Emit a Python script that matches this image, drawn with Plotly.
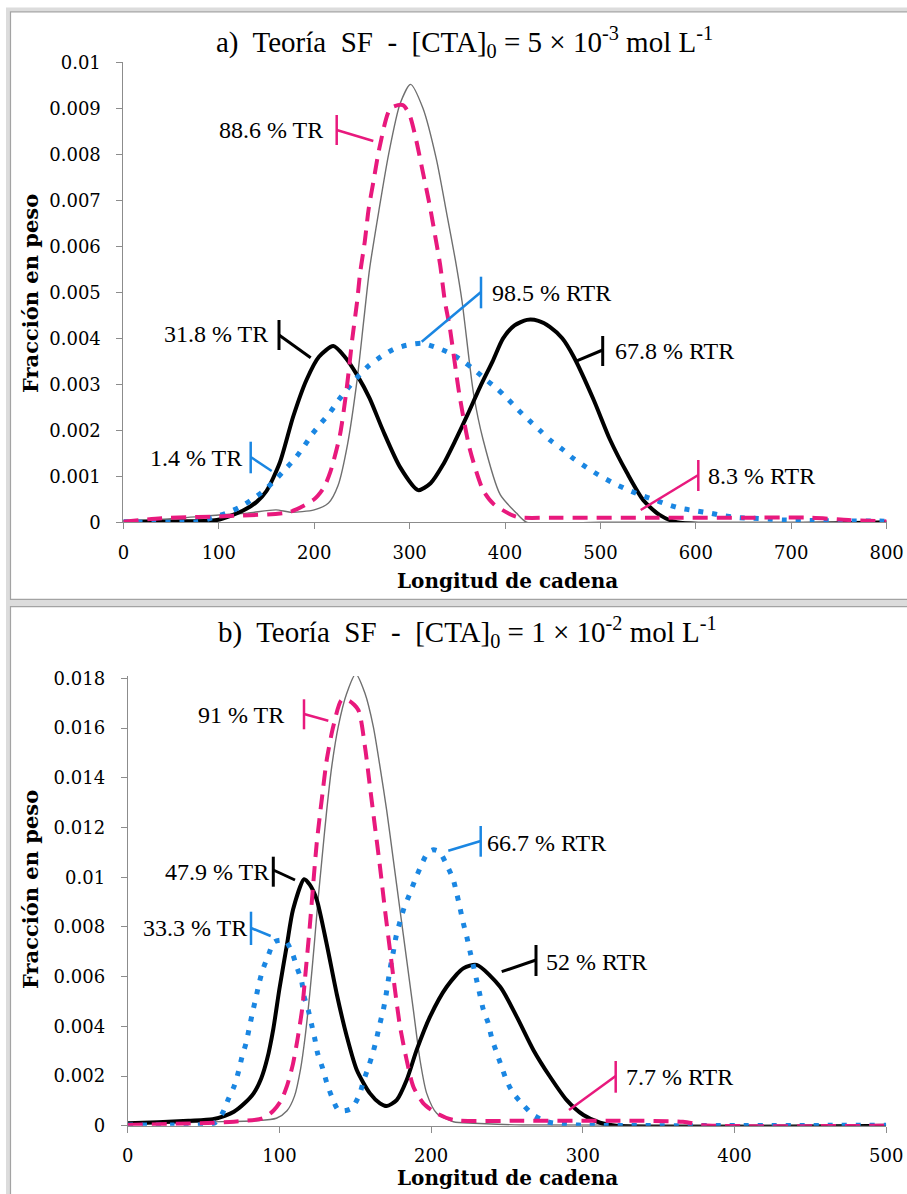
import plotly.graph_objects as go

# ---------------- data: panel a ----------------
A_x_gray = [0, 50, 100, 130, 160, 175, 200, 215, 225, 235, 245, 252, 258, 268, 278, 290, 301, 314, 328, 339, 348, 355, 367, 377, 395, 412, 423, 500, 800]
A_y_gray = [0.00003, 0.00008, 0.00016, 0.0002, 0.00027, 0.00022, 0.00027, 0.00042, 0.0008, 0.0017, 0.0031, 0.0044, 0.0055, 0.0068, 0.0080, 0.0091, 0.00952, 0.0090, 0.0079, 0.0067, 0.0057, 0.0048, 0.0028, 0.0018, 0.0006, 0.0002, 0, 0, 0]

A_x_pink = [0, 40, 115, 175, 200, 210, 217, 227, 234, 240, 245, 248, 253, 257, 262, 269, 280, 293, 300, 307, 314, 321, 327, 332, 337, 342, 352, 363, 377, 388, 412, 450, 550, 650, 720, 760, 800]
A_y_pink = [0.00001, 0.00009, 0.00014, 0.00023, 0.0005, 0.00075, 0.0011, 0.0019, 0.0029, 0.0040, 0.0048, 0.0054, 0.0061, 0.0068, 0.0074, 0.0082, 0.0090, 0.00907, 0.00885, 0.0083, 0.0076, 0.0069, 0.0062, 0.0056, 0.0048, 0.00425, 0.0028, 0.0016, 0.0007, 0.0004, 0.00012, 0.0001, 0.0001, 0.0001, 0.0001, 0.00005, 0.00002]

A_x_black = [0, 50, 98, 125, 140, 150, 164, 178, 192, 205, 220, 232, 245, 258, 272, 290, 309, 322, 335, 348, 361, 374, 387, 398, 410, 423, 435, 447, 460, 472, 493, 510, 528, 545, 562, 580, 800]
A_y_black = [0.00001, 0.00002, 0.00005, 0.00025, 0.00045, 0.00068, 0.0013, 0.0023, 0.0031, 0.0036, 0.00383, 0.0036, 0.0032, 0.0027, 0.0020, 0.0012, 0.0007, 0.00085, 0.00125, 0.00178, 0.00235, 0.00295, 0.0035, 0.0040, 0.00428, 0.0044, 0.00438, 0.00425, 0.004, 0.0036, 0.00266, 0.0018, 0.00107, 0.00048, 0.00016, 0, 0]

A_x_blue = [0, 30, 60, 78, 93, 108, 122, 135, 148, 159, 169, 180, 189, 198, 207, 217, 226, 236, 246, 257, 270, 283, 297, 313, 328, 342, 356, 367, 380, 392, 402, 414, 425, 437, 447, 460, 472, 485, 498, 512, 525, 540, 555, 570, 585, 600, 615, 630, 646, 660, 676, 692, 723, 755, 786, 800]
A_y_blue = [0.00001, 0, 0, 0.00001, 0.0001, 0.0002, 0.00033, 0.0005, 0.0007, 0.00092, 0.00114, 0.00139, 0.00164, 0.00192, 0.00215, 0.0024, 0.00267, 0.00293, 0.00317, 0.0034, 0.0036, 0.00376, 0.00385, 0.00389, 0.0038, 0.00368, 0.0035, 0.00333, 0.0031, 0.0029, 0.0027, 0.00244, 0.00222, 0.00199, 0.00179, 0.00159, 0.00138, 0.0012, 0.00103, 0.00087, 0.00074, 0.00061, 0.0005, 0.00039, 0.0003, 0.00025, 0.0002, 0.00014, 0.0001, 0.00009, 0.00007, 0.00005, 0.00004, 0.00003, 0.00003, 0.00002]

A_xticks = [0, 100, 200, 300, 400, 500, 600, 700, 800]
A_yticks = [0, 0.001, 0.002, 0.003, 0.004, 0.005, 0.006, 0.007, 0.008, 0.009, 0.01]
A_yticktext = ["0", "0.001", "0.002", "0.003", "0.004", "0.005", "0.006", "0.007", "0.008", "0.009", "0.01"]

# ---------------- data: panel b ----------------
B_x_gray = [0, 50, 85, 98, 105, 110, 114, 117, 120, 123, 125.5, 128, 131.2, 134.5, 138.8, 144.4, 150.3, 156.4, 161.9, 166.3, 170.7, 175.1, 179.5, 183.9, 188.3, 192.7, 197.1, 203.7, 214.7, 228, 260, 500]
B_y_gray = [0.00005, 0.00015, 0.0002, 0.0003, 0.0006, 0.0012, 0.0023, 0.0036, 0.0053, 0.0073, 0.0091, 0.0107, 0.0127, 0.01445, 0.01606, 0.0174, 0.01818, 0.0174, 0.01606, 0.01445, 0.0127, 0.0107, 0.00868, 0.00667, 0.00466, 0.00264, 0.0013, 0.0005, 0.00016, 0.0001, 0.00003, 0]

B_x_pink = [0, 48, 70, 89, 96, 101, 105, 109, 112, 115, 117, 120, 122.4, 124.6, 127.9, 131.2, 135.5, 141, 146, 152, 156.4, 159.7, 163, 166.3, 169.6, 172.9, 176.2, 179.5, 183.9, 188.3, 194.9, 203.7, 214.7, 260, 320, 366, 380, 500]
B_y_pink = [0.00003, 0.0001, 0.00016, 0.0003, 0.0006, 0.001, 0.0016, 0.0025, 0.0035, 0.0047, 0.006, 0.008, 0.0098, 0.01137, 0.01311, 0.01472, 0.01606, 0.01713, 0.0171, 0.01673, 0.01525, 0.01364, 0.01203, 0.01042, 0.00868, 0.00707, 0.00546, 0.004, 0.00264, 0.00157, 0.0009, 0.0005, 0.00023, 0.0002, 0.0002, 0.00016, 0.00002, 0]

B_x_black = [0, 20, 40, 56, 64, 70, 77, 83, 88, 92, 96, 100, 105, 109, 116.3, 120, 124.6, 131.2, 137.8, 144.4, 151, 159.7, 166.3, 170.7, 177.3, 183.9, 190.5, 199.3, 210.3, 221.2, 230, 245.5, 256.4, 267.4, 278.4, 289.4, 300.4, 311.4, 322, 500]
B_y_black = [0.0001, 0.00014, 0.0002, 0.00026, 0.0004, 0.00056, 0.0009, 0.0013, 0.0019, 0.0027, 0.0039, 0.0055, 0.0073, 0.0087, 0.00992, 0.0097, 0.0091, 0.0073, 0.0053, 0.0036, 0.00224, 0.0013, 0.0009, 0.00079, 0.00103, 0.00184, 0.00305, 0.00439, 0.00559, 0.00633, 0.00647, 0.00559, 0.00439, 0.00305, 0.00197, 0.00103, 0.00043, 0.00012, 0, 0]

B_x_blue = [0, 30, 57, 62.6, 66.3, 70.3, 73, 75.3, 78, 80.2, 82.4, 84.6, 86.6, 89, 92.8, 96.6, 103.8, 108.5, 111.4, 114.7, 116.2, 119.1, 121.3, 123.5, 125.2, 128.5, 131.2, 134.5, 138.8, 143, 147.7, 152.7, 155.3, 158.6, 161.5, 164.1, 166.3, 168.5, 170.3, 171.8, 173.3, 175.1, 176.9, 179.5, 182.1, 185.6, 189.4, 193.1, 197.5, 201.5, 205.5, 210.3, 214.4, 216.9, 219.1, 221.2, 223.5, 225.7, 227.8, 230, 232.2, 234.4, 237.7, 240, 243.2, 246.5, 249.8, 254.2, 260.8, 267.4, 276.2, 286.1, 300, 500]
B_y_blue = [0.00003, 0.00003, 0.0001, 0.00052, 0.00106, 0.00161, 0.00217, 0.00276, 0.00332, 0.00395, 0.00459, 0.00517, 0.00573, 0.00627, 0.00687, 0.0074, 0.00745, 0.00694, 0.0064, 0.0058, 0.00522, 0.00463, 0.00405, 0.00345, 0.00291, 0.00231, 0.00173, 0.00117, 0.00063, 0.0006, 0.0007, 0.00124, 0.00177, 0.00235, 0.0029, 0.00352, 0.00412, 0.00466, 0.00526, 0.00586, 0.00643, 0.007, 0.00761, 0.00821, 0.00875, 0.00928, 0.00989, 0.01042, 0.01096, 0.0111, 0.01102, 0.01049, 0.00994, 0.00935, 0.00875, 0.00816, 0.00761, 0.007, 0.00645, 0.00586, 0.00526, 0.00468, 0.00412, 0.00352, 0.00294, 0.00237, 0.00181, 0.0013, 0.00083, 0.00043, 0.00016, 0.00007, 0.00002, 0.00002]

B_xticks = [0, 100, 200, 300, 400, 500]
B_yticks = [0, 0.002, 0.004, 0.006, 0.008, 0.01, 0.012, 0.014, 0.016, 0.018]
B_yticktext = ["0", "0.002", "0.004", "0.006", "0.008", "0.01", "0.012", "0.014", "0.016", "0.018"]

TITLE_A = "a)\u00a0 Teoría\u00a0 SF\u00a0 -\u00a0 [CTA]<sub>0</sub> = 5 × 10<sup>-3</sup> mol L<sup>-1</sup>"
TITLE_B = "b)\u00a0 Teoría\u00a0 SF\u00a0 -\u00a0 [CTA]<sub>0</sub> = 1 × 10<sup>-2</sup> mol L<sup>-1</sup>"
X_TITLE = "Longitud de cadena"
Y_TITLE = "Fracción en peso"

LABELS_A = ["88.6 % TR", "31.8 % TR", "1.4 % TR", "98.5 % RTR", "67.8 % RTR", "8.3 % RTR"]
LABELS_B = ["91 % TR", "47.9 % TR", "33.3 % TR", "66.7 % RTR", "52 % RTR", "7.7 % RTR"]

# ---------------- styles ----------------
W, H = 907, 1194
BLACK = "#000000"
GRAY = "#6F6F6F"
PINK = "#E8197D"
BLUE = "#1A86E2"
AXIS = "#8C8C8C"
SERIF = "Liberation Serif, Times New Roman, DejaVu Serif, serif"
DSERIF = "DejaVu Serif, Liberation Serif, serif"
TICKFONT = dict(family=DSERIF, size=18, color="#000")


def P(px, py):
    return px / W, 1 - py / H


fig = go.Figure()

def add_series(xs, ys, color, width, dash, xa, ya):
    fig.add_trace(go.Scatter(x=xs, y=ys, mode="lines", xaxis=xa, yaxis=ya,
                             line=dict(color=color, width=width, dash=dash,
                                       shape="spline", smoothing=0.7),
                             showlegend=False, hoverinfo="skip"))

for xa, ya, data in [
    ("x", "y", [(A_x_gray, A_y_gray, GRAY, 1.4, "solid"),
                (A_x_black, A_y_black, BLACK, 4, "solid"),
                (A_x_blue, A_y_blue, BLUE, 5, "5px,9px"),
                (A_x_pink, A_y_pink, PINK, 4, "15px,9px")]),
    ("x2", "y2", [(B_x_gray, B_y_gray, GRAY, 1.4, "solid"),
                  (B_x_black, B_y_black, BLACK, 4, "solid"),
                  (B_x_blue, B_y_blue, BLUE, 5, "5px,9px"),
                  (B_x_pink, B_y_pink, PINK, 4, "15px,9px")]),
]:
    for xs, ys, c, w, d in data:
        add_series(xs, ys, c, w, d, xa, ya)

axis_common = dict(showline=True, linecolor=AXIS, linewidth=1, ticks="outside",
                   ticklen=6, tickcolor=AXIS, tickwidth=1, showgrid=False,
                   zeroline=False, tickfont=TICKFONT, automargin=False)

# panel a plot area (pixels): x 123.4..886.6, y 62.3..522.3
# panel b plot area (pixels): x 127.7..886.2, y 675.9..1125.7
fig.update_layout(
    width=W, height=H, autosize=False,
    margin=dict(l=0, r=0, t=0, b=0, pad=0, autoexpand=False),
    paper_bgcolor="white", plot_bgcolor="white",
    xaxis=dict(domain=[123.4 / W, 886.6 / W], range=[0, 800], tickvals=A_xticks,
               anchor="y", ticklabelstandoff=8, **axis_common),
    yaxis=dict(domain=[1 - 522.3 / H, 1 - 62.3 / H], range=[0, 0.01],
               tickvals=A_yticks, ticktext=A_yticktext, anchor="x",
               ticklabelstandoff=12, **axis_common),
    xaxis2=dict(domain=[127.7 / W, 886.2 / W], range=[0, 500], tickvals=B_xticks,
                anchor="y2", ticklabelstandoff=8, **axis_common),
    yaxis2=dict(domain=[1 - 1125.7 / H, 1 - 675.9 / H], range=[0, 0.0181],
                tickvals=B_yticks, ticktext=B_yticktext, anchor="x2",
                ticklabelstandoff=12, **axis_common),
)

shapes = []
annotations = []

# panel frames
for (x0, y0, x1, y1) in [(8, 9.5, 960, 602), (8, 604, 960, 1260)]:
    a0 = P(x0, y0); a1 = P(x1, y1)
    shapes.append(dict(type="rect", xref="paper", yref="paper", x0=a0[0], y0=a1[1],
                       x1=a1[0], y1=a0[1], line=dict(color="#DCDCDC", width=4),
                       layer="below"))
for (x0, y0, x1, y1) in [(10.5, 11.8, 960, 599.3), (10.5, 606.7, 960, 1260)]:
    a0 = P(x0, y0); a1 = P(x1, y1)
    shapes.append(dict(type="rect", xref="paper", yref="paper", x0=a0[0], y0=a1[1],
                       x1=a1[0], y1=a0[1], line=dict(color="#A3A3A3", width=1.2),
                       layer="below"))

# callouts: (color, side, text_x, text_y, bar_x, bar_y0, bar_y1, lx0, ly0, lx1, ly1)
CALLOUT_POS_A = [
    (PINK, "right", 325, 130, 336.7, 115, 145, 336.7, 130, 373.3, 141),
    (BLACK, "right", 270, 334, 279, 320, 350, 279, 335, 310.7, 357.7),
    (BLUE, "right", 243.5, 458, 250.7, 441.7, 473.3, 250.7, 457, 271.7, 471),
    (BLUE, "left", 489.5, 293.3, 481, 276.7, 308.3, 421.7, 341.7, 481, 292),
    (BLACK, "left", 613, 350.7, 602.7, 336, 366, 575, 361.7, 602.7, 350),
    (PINK, "left", 706.3, 476, 698.3, 460, 491, 640.7, 510, 698.3, 475),
]
CALLOUT_POS_B = [
    (PINK, "right", 286, 715, 304, 699.3, 729.3, 304, 714, 328.3, 720.7),
    (BLACK, "right", 271.3, 872.3, 273.3, 856.7, 886.7, 273.3, 870, 295, 880),
    (BLUE, "right", 248.7, 928.3, 251, 911.7, 945, 251, 928, 270.7, 936),
    (BLUE, "left", 485.3, 842.7, 480.7, 826, 856.7, 448.3, 850.7, 480.7, 841),
    (BLACK, "left", 544, 961.7, 536, 945, 976, 501.7, 971.7, 536, 960),
    (PINK, "left", 623.7, 1077.3, 615.7, 1061, 1092.7, 569, 1110, 615.7, 1076),
]

for labels, poss in [(LABELS_A, CALLOUT_POS_A), (LABELS_B, CALLOUT_POS_B)]:
    for lab, (c, side, tx, ty, bx, by0, by1, lx0, ly0, lx1, ly1) in zip(labels, poss):
        lw = 3 if c == BLACK else 2.5
        p0 = P(bx, by0); p1 = P(bx, by1)
        shapes.append(dict(type="line", xref="paper", yref="paper", x0=p0[0], y0=p0[1],
                           x1=p1[0], y1=p1[1], line=dict(color=c, width=lw), layer="above"))
        q0 = P(lx0, ly0); q1 = P(lx1, ly1)
        shapes.append(dict(type="line", xref="paper", yref="paper", x0=q0[0], y0=q0[1],
                           x1=q1[0], y1=q1[1], line=dict(color=c, width=lw), layer="above"))
        t = P(tx, ty)
        annotations.append(dict(text=lab, xref="paper", yref="paper", x=t[0], y=t[1],
                                xanchor=side, yanchor="middle", showarrow=False,
                                font=dict(family=SERIF, size=24, color="#000")))

# titles
for txt, (cx, cy) in [(TITLE_A, (465, 42)), (TITLE_B, (467, 632))]:
    p = P(cx, cy)
    annotations.append(dict(text=txt, xref="paper", yref="paper", x=p[0], y=p[1],
                            xanchor="center", yanchor="middle", showarrow=False,
                            font=dict(family=SERIF, size=29, color="#000")))
# axis titles
for (cx, cy) in [(507, 581), (507, 1178)]:
    p = P(cx, cy)
    annotations.append(dict(text="<b>" + X_TITLE + "</b>", xref="paper", yref="paper",
                            x=p[0], y=p[1], xanchor="center", yanchor="middle",
                            showarrow=False,
                            font=dict(family=DSERIF, size=20, color="#000")))
for (cx, cy) in [(30, 294), (30, 890)]:
    p = P(cx, cy)
    annotations.append(dict(text="<b>" + Y_TITLE + "</b>", xref="paper", yref="paper",
                            x=p[0], y=p[1], xanchor="center", yanchor="middle",
                            textangle=-90, showarrow=False,
                            font=dict(family=DSERIF, size=21, color="#000")))

fig.update_layout(shapes=shapes, annotations=annotations)
fig.write_html("out.html", config={"displayModeBar": False})
